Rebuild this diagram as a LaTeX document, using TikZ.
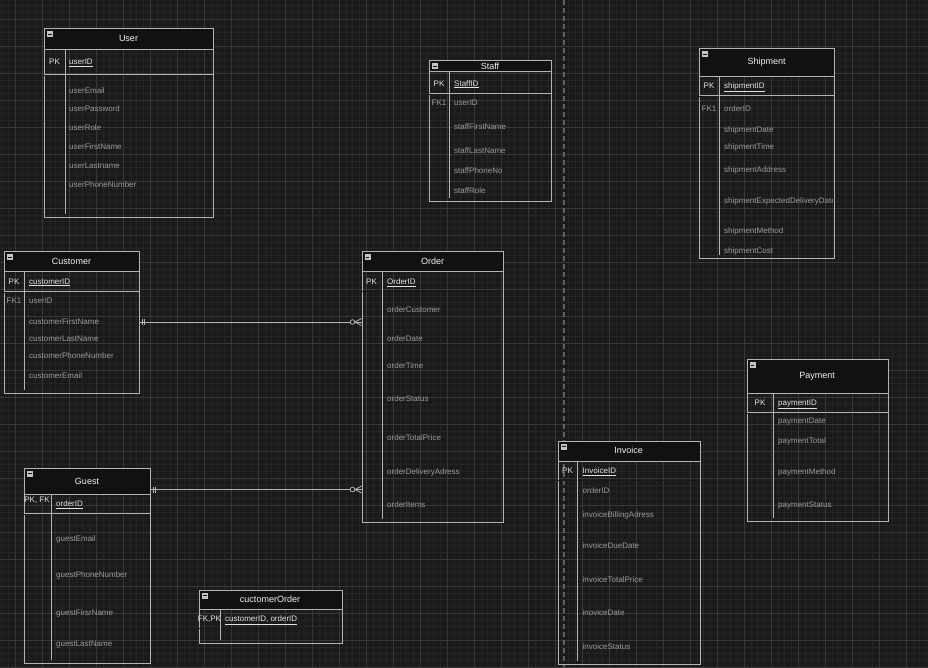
\documentclass[tikz,border=0pt]{standalone}
\usepackage{fontspec}
\setmainfont{Liberation Sans}
\usetikzlibrary{positioning,calc}

\definecolor{bgcol}{HTML}{1A1A1A}
\definecolor{minorcol}{HTML}{242424}
\definecolor{majorcol}{HTML}{383838}
\definecolor{hdrcol}{HTML}{111111}
\definecolor{linecol}{HTML}{B4B4B4}
\definecolor{titlecol}{HTML}{F2F2F2}
\definecolor{keycol}{HTML}{E2E2E2}
\definecolor{attrcol}{HTML}{9C9C9C}
\definecolor{iconcol}{HTML}{C4C4C4}
\definecolor{dashcol}{HTML}{5E5E5E}

% table frame: name, x1, y1, x2, y2, header bottom, key row bottom, column rule
\newcommand{\erframe}[8]{%
  \fill[hdrfill] (#2,#3) rectangle (#4,#6);
  \node[tbl, minimum width={#4-#2}, minimum height={#5-#3}] (#1) at (#2,#3) {};
  \draw[rule] (#2,#6) -- (#4,#6);
  \draw[pkrule] (#2,#7) -- (#4,#7);
  \draw[rule] (#8,#6) -- (#8,{#5-3});
  \fill[icon] ({#2+3},{#3+3}) rectangle ({#2+9},{#3+9});
  \draw[iconbar] ({#2+4.3},{#3+6}) -- ({#2+7.7},{#3+6});
}

\begin{document}
\begin{tikzpicture}[
  x=1pt, y=-1pt,
  tbl/.style={draw=linecol, line width=0.8pt, inner sep=0pt, anchor=north west},
  hdrfill/.style={fill=hdrcol},
  rule/.style={draw=linecol, line width=0.8pt},
  pkrule/.style={draw=linecol, line width=0.5pt, double=bgcol, double distance=0.7pt},
  icon/.style={fill=iconcol},
  iconbar/.style={draw=hdrcol, line width=0.9pt},
  ttl/.style={text=titlecol, font=\fontsize{9}{10}\selectfont, inner sep=0pt},
  key/.style={text=keycol, font=\fontsize{8}{9}\selectfont, inner sep=0pt,
    text height=5.8pt, text depth=1.6pt},
  keyid/.style={key, anchor=west},
  fk/.style={key, text=attrcol},
  attr/.style={text=attrcol, font=\fontsize{8}{9}\selectfont, inner sep=0pt,
    anchor=west, text height=5.8pt, text depth=1.6pt},
  rel/.style={draw=linecol, line width=0.8pt},
  divider/.style={draw=dashcol, line width=1.3pt, dash pattern=on 5pt off 3pt}
]
\useasboundingbox (0,0) rectangle (928,667);
\fill[bgcol] (0,0) rectangle (928,667);

% grid
\foreach \gx in {0,...,139}
  \draw[minorcol, line width=0.5pt] ({-12+6.75*\gx},0) -- ({-12+6.75*\gx},667);
\foreach \gy in {0,...,100}
  \draw[minorcol, line width=0.5pt] (0,{-8+6.75*\gy}) -- (928,{-8+6.75*\gy});
\foreach \gx in {0,...,34}
  \draw[majorcol, line width=0.6pt] ({15+27*\gx},0) -- ({15+27*\gx},667);
\foreach \gy in {0,...,24}
  \draw[majorcol, line width=0.6pt] (0,{19+27*\gy}) -- (928,{19+27*\gy});

\draw[divider] (564,0) -- (564,667);

% User
\erframe{user}{44}{28}{213}{217}{49}{75}{65}
\node[ttl] (user-t) at (128.5,38.5) {User};
\node[key] (user-pk) at (54.5,62.5) {PK};
\node[keyid] (user-id) at (69,62.5) {\underline{userID}};
\foreach \t/\yy in {userEmail/91, userPassword/109.5, userRole/128.5,
    userFirstName/147.5, userLastname/166.5, userPhoneNumber/185.5}
  \node[attr] (user-\yy) at (69,\yy) {\t};

% Staff
\erframe{staff}{429}{60}{551}{201}{71}{94}{449}
\node[ttl] (staff-t) at (490,66) {Staff};
\node[key] (staff-pk) at (439,84) {PK};
\node[keyid] (staff-id) at (454,84) {\underline{StaffID}};
\node[fk] (staff-fk) at (439,103.5) {FK1};
\foreach \t/\yy in {userID/103.5, staffFirstName/127.5, staffLastName/151.5,
    staffPhoneNo/171.5, staffRole/191.5}
  \node[attr] (staff-\yy) at (454,\yy) {\t};

% Shipment
\erframe{shipment}{699}{48}{834}{258}{76}{96}{719}
\node[ttl] (ship-t) at (766.5,62) {Shipment};
\node[key] (ship-pk) at (709,86.5) {PK};
\node[keyid] (ship-id) at (724,86.5) {\underline{shipmentID}};
\node[fk] (ship-fk) at (709,109.5) {FK1};
\begin{scope}
  \clip (699,48) rectangle (832.5,258);
  \foreach \t/\yy in {orderID/109.5, shipmentDate/130.5, shipmentTime/147.5,
      shipmentAddress/170.5, shipmentExpectedDeliveryDate/201.5,
      shipmentMethod/231.5, shipmentCost/251.5}
    \node[attr] (ship-\yy) at (724,\yy) {\t};
\end{scope}

% Customer
\erframe{customer}{4}{251}{139}{393}{271}{292}{24}
\node[ttl] (cust-t) at (71.5,261) {Customer};
\node[key] (cust-pk) at (14,282) {PK};
\node[keyid] (cust-id) at (29,282) {\underline{customerID}};
\node[fk] (cust-fk) at (14,301.5) {FK1};
\node[attr] (cust-user) at (29,301.5) {userID};
\node[attr] (c-first) at (29,322) {customerFirstName};
\node[attr] (c-last) at (29,339.5) {customerLastName};
\node[attr] (c-phone) at (29,356.5) {customerPhoneNumber};
\node[attr] (c-mail) at (29,376.5) {customerEmail};

% Guest
\erframe{guest}{24}{467.5}{150}{663}{494}{514}{51}
\node[ttl] (guest-t) at (87,481) {Guest};
\node[key] (guest-pk) at (37,500) {PK, FK};
\node[keyid] (guest-id) at (56,504.5) {\underline{orderID}};
\foreach \t/\yy in {guestEmail/539, guestPhoneNumber/575,
    guestFirsrName/613, guestLastName/644}
  \node[attr] (guest-\yy) at (56,\yy) {\t};

% Order
\erframe{order}{361.5}{251}{503}{521.5}{271}{291.5}{382}
\node[ttl] (order-t) at (432.5,261) {Order};
\node[key] (order-pk) at (371.5,282.5) {PK};
\node[keyid] (order-id) at (387,282.5) {\underline{OrderID}};
\foreach \t/\yy in {orderCustomer/310, orderDate/339.5, orderTime/366,
    orderStatus/399, orderTotalPrice/438, orderDeliveryAdress/472,
    orderItems/505}
  \node[attr] (order-\yy) at (387,\yy) {\t};

% Payment
\erframe{payment}{746.5}{359}{888}{521}{393}{413}{773}
\node[ttl] (pay-t) at (817,376) {Payment};
\node[key] (pay-pk) at (760,403.5) {PK};
\node[keyid] (pay-id) at (778,403.5) {\underline{paymentID}};
\foreach \t/\yy in {paymentDate/421, paymentTotal/441,
    paymentMethod/472, paymentStatus/505}
  \node[attr] (pay-\yy) at (778,\yy) {\t};

% Invoice
\erframe{invoice}{558}{440.5}{699.5}{663.5}{461}{480.5}{577.5}
\node[ttl] (inv-t) at (628.5,450.5) {Invoice};
\node[key] (inv-pk) at (567.5,471.5) {PK};
\node[keyid] (inv-id) at (582.5,471.5) {\underline{InvoiceID}};
\foreach \t/\yy in {orderID/491.5, invoiceBillingAdress/515, invoiceDueDate/546,
    invoiceTotalPrice/580, inoviceDate/613, invoiceStatus/647}
  \node[attr] (inv-\yy) at (582.5,\yy) {\t};

% cuctomerOrder
\erframe{custorder}{199}{589.5}{341.5}{643}{609}{628.5}{220}
\node[ttl] (co-t) at (270,599.5) {cuctomerOrder};
\node[key] (co-pk) at (209.5,619.5) {FK,PK};
\node[keyid] (co-id) at (225,619.5) {\underline{customerID, orderID}};

% relations
\coordinate (c-link) at (customer.east |- c-first);
\coordinate (o-link1) at (order.west |- c-first);
\draw[rel] (c-link) -- (o-link1);
\draw[rel] ($(c-link)+(2.5,-3)$) -- ++(0,6);
\draw[rel] ($(c-link)+(5,-3)$) -- ++(0,6);
\draw[rel] ($(o-link1)+(-6.5,0)$) -- ($(o-link1)+(0,-3.5)$);
\draw[rel] ($(o-link1)+(-6.5,0)$) -- ($(o-link1)+(0,3.5)$);
\filldraw[rel, fill=bgcol] ($(o-link1)+(-9,0)$) circle[radius=2.3pt];

\coordinate (g-link) at ($(guest.north east)+(0,22)$);
\coordinate (o-link2) at (order.west |- g-link);
\draw[rel] (g-link) -- (o-link2);
\draw[rel] ($(g-link)+(2.5,-3)$) -- ++(0,6);
\draw[rel] ($(g-link)+(5,-3)$) -- ++(0,6);
\draw[rel] ($(o-link2)+(-6.5,0)$) -- ($(o-link2)+(0,-3.5)$);
\draw[rel] ($(o-link2)+(-6.5,0)$) -- ($(o-link2)+(0,3.5)$);
\filldraw[rel, fill=bgcol] ($(o-link2)+(-9,0)$) circle[radius=2.3pt];
\end{tikzpicture}
\end{document}
